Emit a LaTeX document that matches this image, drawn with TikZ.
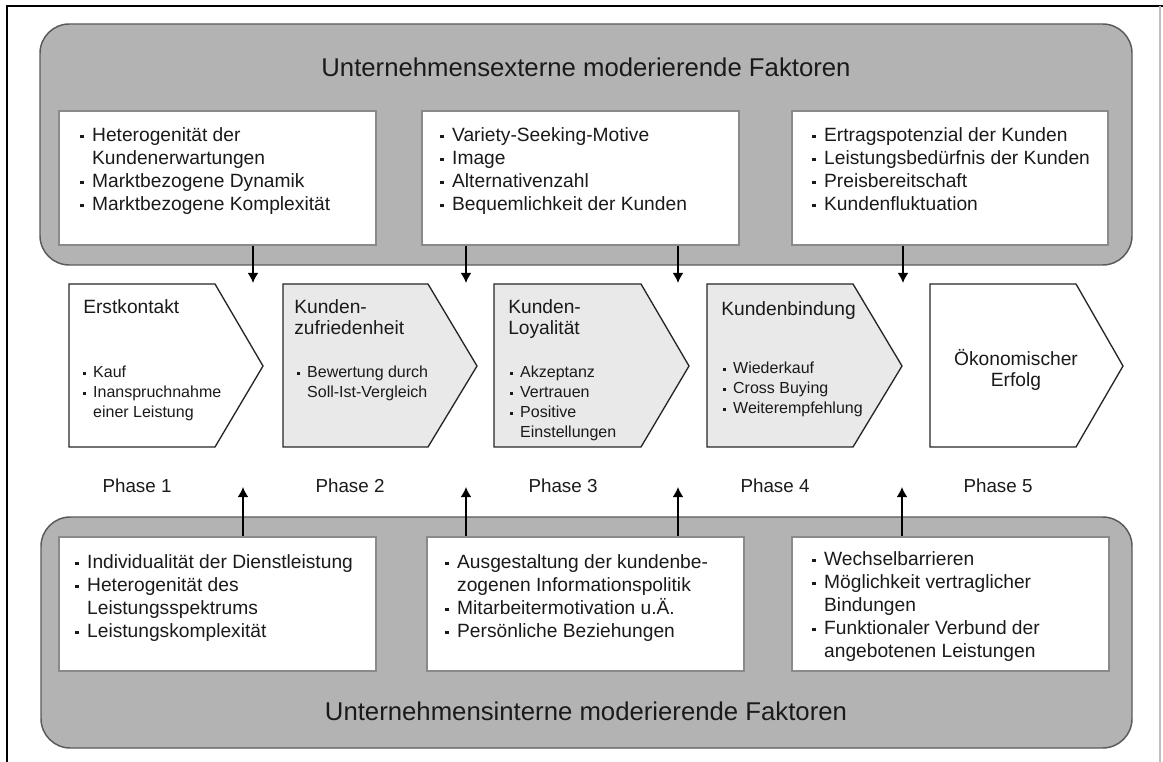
\documentclass[tikz,border=0pt]{standalone}
\usepackage{fontspec}
\setmainfont{Liberation Sans}
\usetikzlibrary{arrows.meta,fit}
\definecolor{outergray}{HTML}{B3B3B3}
\definecolor{chevfill}{HTML}{E9E9E9}
\definecolor{edgegray}{HTML}{5A5A5A}
\definecolor{boxedge}{HTML}{8A8A8A}
\definecolor{ink}{HTML}{1A1A1A}
% small square bullet and matching hanging indent
\newcommand\bdot{\makebox[0.62em][l]{\raisebox{0.2em}{\rule{0.17em}{0.17em}}}}
\newcommand\bind{\hspace*{0.62em}}

\begin{document}
\begin{tikzpicture}[x=0.75pt,y=-0.75pt,
  factorbox/.style={draw=edgegray, line width=1.1pt, fill=outergray, rounded corners=22pt, inner sep=0pt},
  listbox/.style={draw=boxedge, line width=0.8pt, fill=white, inner sep=0pt},
  listtext/.style={anchor=north west, inner sep=0pt, align=left, text=ink, font=\fontsize{14.4}{17.25}\selectfont},
  phasehead/.style={anchor=north west, inner sep=0pt, align=left, text=ink, font=\fontsize{14.4}{15.5}\selectfont},
  phasetext/.style={anchor=north west, inner sep=0pt, align=left, text=ink, font=\fontsize{12}{15}\selectfont},
  chev/.style={draw=black!85, line width=1pt, line join=miter},
  phaselabel/.style={inner sep=0pt, text=ink, font=\fontsize{14.1}{17}\selectfont},
  title/.style={inner sep=0pt, text=ink, font=\fontsize{19.3}{23}\selectfont},
  arr/.style={line width=1.1pt, -{Latex[length=7.5pt,width=8pt]}}
]
\useasboundingbox (0,0) rectangle (1163,762);

% page frame
\draw[line width=1.1pt] (7,762) -- (7,6) -- (1163,6);
\draw[line width=0.8pt, black!25] (1160,6) -- (1160,762);

% ---------- external factors ----------
\node[factorbox, fit={(40,24) (1132,265)}] (ext) {};
\node[title] (exttitle) at (586,67) {Unternehmensexterne moderierende Faktoren};

\node[listbox, fit={(59,111) (376,245)}] (tb1) {};
\node[listbox, fit={(422,111) (739,245)}] (tb2) {};
\node[listbox, fit={(792,111) (1108,245)}] (tb3) {};

\node[listtext] (tt1) at (80,125.4) {\strut\bdot Heterogenität der\\ \bind Kundenerwartungen\\ \bdot Marktbezogene Dynamik\\ \bdot Marktbezogene Komplexität};
\node[listtext] (tt2) at (440,125.4) {\strut\bdot Variety-Seeking-Motive\\ \bdot Image\\ \bdot Alternativenzahl\\ \bdot Bequemlichkeit der Kunden};
\node[listtext] (tt3) at (812,125.4) {\strut\bdot Ertragspotenzial der Kunden\\ \bdot Leistungsbedürfnis der Kunden\\ \bdot Preisbereitschaft\\ \bdot Kundenfluktuation};

% ---------- internal factors ----------
\node[factorbox, fit={(41,517) (1132,748)}] (int) {};
\node[title] (inttitle) at (586,711) {Unternehmensinterne moderierende Faktoren};

\node[listbox, fit={(59,537) (376,671)}] (bb1) {};
\node[listbox, fit={(427,537) (744,671)}] (bb2) {};
\node[listbox, fit={(792,537) (1109,671)}] (bb3) {};

\node[listtext] (bt1) at (75,552.4) {\strut\bdot Individualität der Dienstleistung\\ \bdot Heterogenität des\\ \bind Leistungsspektrums\\ \bdot Leistungskomplexität};
\node[listtext] (bt2) at (445,552.4) {\strut\bdot Ausgestaltung der kundenbe-\\ \bind zogenen Informationspolitik\\ \bdot Mitarbeitermotivation u.Ä.\\ \bdot Persönliche Beziehungen};
\node[listtext] (bt3) at (812,549.4) {\strut\bdot Wechselbarrieren\\ \bdot Möglichkeit vertraglicher\\ \bind Bindungen\\ \bdot Funktionaler Verbund der\\ \bind angebotenen Leistungen};

% ---------- phase chevrons ----------
\draw[chev, fill=white]    (69,284)  -- (215,284)  -- (263,366)  -- (215,447)  -- (69,447)  -- cycle;
\draw[chev, fill=chevfill] (283,284) -- (428,284)  -- (477,366)  -- (428,447)  -- (283,447) -- cycle;
\draw[chev, fill=chevfill] (494,284) -- (641,284)  -- (689,366)  -- (641,447)  -- (494,447) -- cycle;
\draw[chev, fill=chevfill] (707,284) -- (853,284)  -- (902,366)  -- (853,447)  -- (707,447) -- cycle;
\draw[chev, fill=white]    (930,284) -- (1076,284) -- (1123,366) -- (1076,447) -- (930,447) -- cycle;

\node[phasehead] (h1) at (83,299) {\strut Erstkontakt};
\node[phasetext] (p1) at (83,363.5) {\strut\bdot Kauf\\ \bdot Inanspruchnahme\\ \bind einer Leistung};

\node[phasehead] (h2) at (294,299) {\strut Kunden-\\zufriedenheit};
\node[phasetext] (p2) at (297,363.5) {\strut\bdot Bewertung durch\\ \bind Soll-Ist-Vergleich};

\node[phasehead] (h3) at (508,299) {\strut Kunden-\\Loyalität};
\node[phasetext] (p3) at (510,363.5) {\strut\bdot Akzeptanz\\ \bdot Vertrauen\\ \bdot Positive\\ \bind Einstellungen};

\node[phasehead] (h4) at (721,300.5) {\strut Kundenbindung};
\node[phasetext] (p4) at (723,359.5) {\strut\bdot Wiederkauf\\ \bdot Cross Buying\\ \bdot Weiterempfehlung};

\node[phasehead, anchor=north, align=center, font=\fontsize{14.4}{15.6}\selectfont] (h5) at (1016,349) {\strut Ökonomischer\\Erfolg};

% phase labels
\node[phaselabel] (ph1) at (137,486) {Phase 1};
\node[phaselabel] (ph2) at (350,486) {Phase 2};
\node[phaselabel] (ph3) at (563,486) {Phase 3};
\node[phaselabel] (ph4) at (775,486) {Phase 4};
\node[phaselabel] (ph5) at (998,486) {Phase 5};

% ---------- influence arrows ----------
\coordinate (a1) at (253,283);
\coordinate (a2) at (466,283);
\coordinate (a3) at (678,283);
\coordinate (a4) at (903,283);
\draw[arr] (tb1.south -| a1) -- (a1);
\draw[arr] (tb2.south -| a2) -- (a2);
\draw[arr] (tb2.south -| a3) -- (a3);
\draw[arr] (tb3.south -| a4) -- (a4);

\coordinate (b1) at (243,487);
\coordinate (b2) at (466,487);
\coordinate (b3) at (678,487);
\coordinate (b4) at (902,487);
\draw[arr] (bb1.north -| b1) -- (b1);
\draw[arr] (bb2.north -| b2) -- (b2);
\draw[arr] (bb2.north -| b3) -- (b3);
\draw[arr] (bb3.north -| b4) -- (b4);
\end{tikzpicture}
\end{document}
